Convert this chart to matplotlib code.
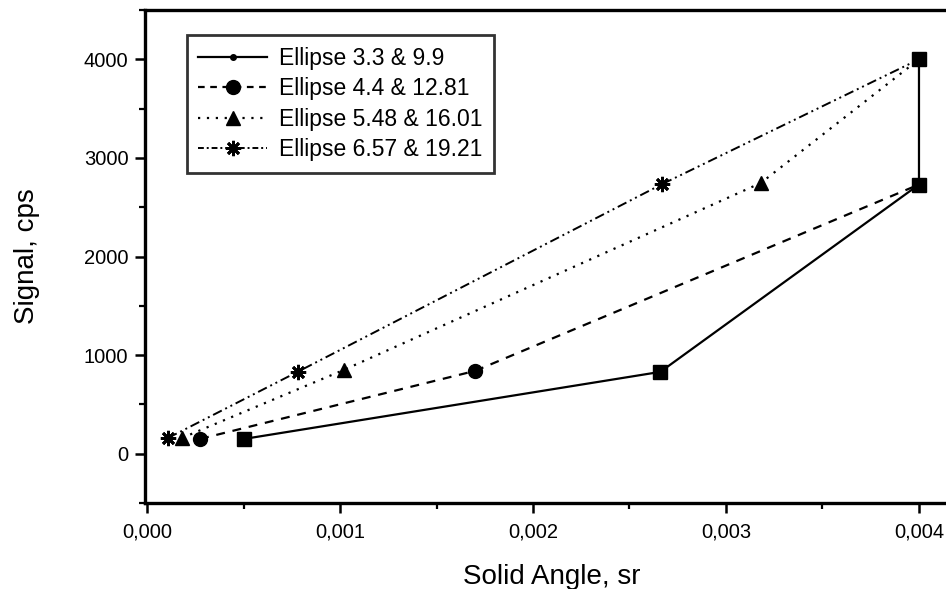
import matplotlib
matplotlib.use("Agg")
import matplotlib.pyplot as plt
from matplotlib.ticker import MultipleLocator, FixedLocator
from matplotlib.lines import Line2D

plt.rcParams['font.family'] = ['Liberation Sans', 'DejaVu Sans']

labels = ["Ellipse 3.3 & 9.9", "Ellipse 4.4 & 12.81",
          "Ellipse 5.48 & 16.01", "Ellipse 6.57 & 19.21"]

x1 = [0.000503, 0.00266, 0.0040, 0.0040]
y1 = [150, 830, 2730, 4000]
x2 = [0.000275, 0.00170, 0.0040]
y2 = [150, 840, 2730]
x3 = [0.000181, 0.00102, 0.00318, 0.0040]
y3 = [160, 850, 2745, 4000]
x4 = [0.000109, 0.00078, 0.00267, 0.0040]
y4 = [160, 830, 2735, 4000]

xticks = [0.000, 0.001, 0.002, 0.003, 0.004]
xticklabels = ["0,000", "0,001", "0,002", "0,003", "0,004"]
yticks = [0, 1000, 2000, 3000, 4000]
yticklabels = ["0", "1000", "2000", "3000", "4000"]

fig = plt.figure(figsize=(9.46, 5.89), dpi=100)
ax = fig.add_axes([0.1533, 0.146, 0.8467, 0.837])

star = (8, 2, 0)
ax.plot(x4, y4, color='black', lw=1.4, linestyle=(0, (5, 2, 1, 2, 1, 2)),
        marker=star, markersize=11, markeredgewidth=2.0, markevery=[0, 1, 2])
ax.plot(x3, y3, color='black', lw=1.6, linestyle=(0, (1, 3)),
        marker='^', markersize=10, markevery=[0, 1, 2])
ax.plot(x2, y2, color='black', lw=1.6, linestyle=(0, (4, 3.5)),
        marker='o', markersize=10, markevery=[0, 1])
ax.plot(x1, y1, color='black', lw=1.6, linestyle='-',
        marker='s', markersize=9.5)

ax.set_xlim(-0.0000104, 0.00414)
ax.set_ylim(-500, 4500)

ax.xaxis.set_major_locator(FixedLocator(xticks))
ax.set_xticklabels(xticklabels)
ax.xaxis.set_minor_locator(MultipleLocator(0.0005))
ax.yaxis.set_major_locator(FixedLocator(yticks))
ax.set_yticklabels(yticklabels)
ax.yaxis.set_minor_locator(MultipleLocator(500))

ax.tick_params(axis='both', which='major', direction='out', length=7, width=1.8,
               labelsize=14.5)
ax.tick_params(axis='y', which='major', pad=5)
ax.tick_params(axis='x', which='major', pad=7)
ax.tick_params(axis='both', which='minor', direction='out', length=4.5, width=1.6)

for s in ['left', 'bottom', 'top']:
    ax.spines[s].set_linewidth(2.4)
ax.spines['right'].set_visible(False)

ax.set_xlabel("Solid Angle, sr", fontsize=20)
ax.set_ylabel("Signal, cps", fontsize=20)
ax.xaxis.set_label_coords(0.508, -0.150)
ax.xaxis.label.set_verticalalignment('center')
ax.yaxis.set_label_coords(-0.147, 0.5)
ax.yaxis.label.set_verticalalignment('center')

handles = [
    Line2D([], [], color='black', lw=1.6, linestyle='-', marker='.', markersize=8),
    Line2D([], [], color='black', lw=1.6, linestyle=(0, (3, 2.5)), marker='o', markersize=10),
    Line2D([], [], color='black', lw=1.6, linestyle=(0, (1, 3)), marker='^', markersize=10),
    Line2D([], [], color='black', lw=1.4, linestyle=(0, (3, 1.5, 1, 1.5)), marker=star,
           markersize=11, markeredgewidth=2.0),
]
leg = ax.legend(handles, labels, loc='upper left', bbox_to_anchor=(0.0524, 0.949),
                borderaxespad=0, fontsize=16.5, frameon=True, fancybox=False,
                edgecolor='black', handlelength=3.0, handletextpad=0.5,
                borderpad=0.5, labelspacing=0.33)
leg.get_frame().set_linewidth(2.0)

fig.savefig("out.png", dpi=100)
